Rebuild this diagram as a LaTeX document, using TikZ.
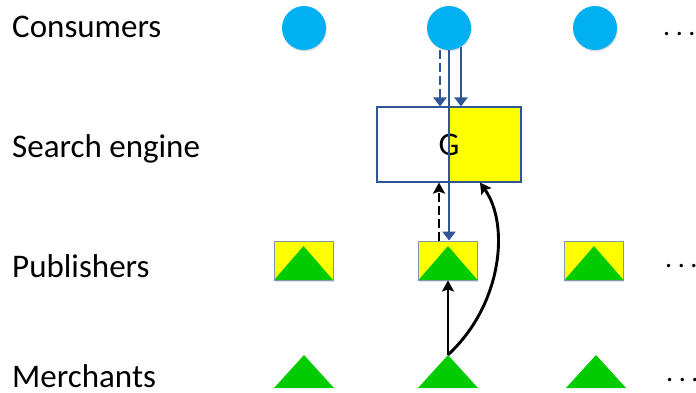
\documentclass[tikz,border=0pt]{standalone}
\usepackage{fontspec}
\setmainfont{Carlito}
\usetikzlibrary{arrows.meta,shadows}
\definecolor{cons}{HTML}{00B0F0}
\definecolor{navy}{HTML}{2F5597}
\definecolor{grn}{HTML}{00CC00}
\definecolor{ylw}{HTML}{FFFF00}
\definecolor{pubedge}{HTML}{8497B0}
\begin{document}
\begin{tikzpicture}[x=1pt,y=-1pt,
  lbl/.style={anchor=base west, inner sep=0pt, font=\fontsize{33}{36}\selectfont},
  dotsrow/.style={anchor=base west, inner sep=0pt, font=\fontsize{28}{30}\selectfont},
  softshadow/.style={drop shadow={opacity=0.25, shadow xshift=0.8pt, shadow yshift=-1.5pt}},
  consumer/.style={circle, fill=cons, minimum size=44pt, inner sep=0pt, softshadow},
  engine/.style={rectangle, draw=navy, line width=1.1pt, fill=white, minimum width=144pt, minimum height=75pt, inner sep=0pt,
    font=\fontsize{33}{36}\selectfont,
    path picture={\fill[ylw] (path picture bounding box.north) rectangle (path picture bounding box.south east);}},
  pub/.style={rectangle, draw=pubedge, line width=0.9pt, fill=ylw, minimum width=59pt, minimum height=39pt, inner sep=0pt, softshadow,
    path picture={\fill[grn] (path picture bounding box.south west) -- ([yshift=-5pt]path picture bounding box.north) -- (path picture bounding box.south east) -- cycle;}},
  merchant/.style={rectangle, minimum width=60pt, minimum height=33pt, inner sep=0pt,
    path picture={\fill[grn] (path picture bounding box.south west) -- (path picture bounding box.north) -- (path picture bounding box.south east) -- cycle;}},
  bluearrow/.style={draw=navy, line width=2.6pt, -{Triangle[length=9pt,width=13pt]}},
  blackarrow/.style={draw=black, line width=2.9pt, -{Stealth[length=11pt,width=12pt,inset=2pt]}},
  dashpat/.style={dash pattern=on 9pt off 4pt}
]
\useasboundingbox (0,0) rectangle (696,392);

% labels
\node[lbl] (lc) at (12,37) {Consumers};
\node[lbl] (ls) at (12,157) {Search engine};
\node[lbl] (lp) at (12,277) {Publishers};
\node[lbl] (lm) at (12,387.5) {Merchants};

% consumers
\node[consumer] (c1) at (304,28) {};
\node[consumer] (c2) at (449,28) {};
\node[consumer] (c3) at (595,28) {};
\node[dotsrow] (d1) at (663,35.5) {.\kern5.5pt.\kern5.5pt.};

% search engine
\node[engine] (g) at (449,144.5) {G};

% publishers
\node[pub] (p1) at (303.5,260.5) {};
\node[pub] (p2) at (448,260.5) {};
\node[pub] (p3) at (594,260.5) {};
\node[dotsrow] (d2) at (665,267.5) {.\kern5.5pt.\kern5.5pt.};

% merchants
\node[merchant] (m1) at (304,371.5) {};
\node[merchant] (m2) at (448,371.5) {};
\node[merchant] (m3) at (596,371.5) {};
\node[dotsrow] (d3) at (666,381.5) {.\kern5.5pt.\kern5.5pt.};

% connectors
\draw[bluearrow, dashpat] ([xshift=-9pt]c2.south) -- ([xshift=-9pt]g.north);
\draw[bluearrow] ([xshift=12pt,yshift=3pt]c2.south) -- ([xshift=12pt]g.north);
\draw[bluearrow] (c2.south) -- (c2.south |- p2.north);
\draw[blackarrow, dashpat] ([xshift=-9pt]p2.north) -- ([xshift=-9pt]p2.north |- g.south);
\draw[blackarrow] (m2.north) -- (p2.south);
\draw[blackarrow] (m2.north) .. controls (502,305) and (510,225) .. ([xshift=31pt]g.south);
\end{tikzpicture}
\end{document}
